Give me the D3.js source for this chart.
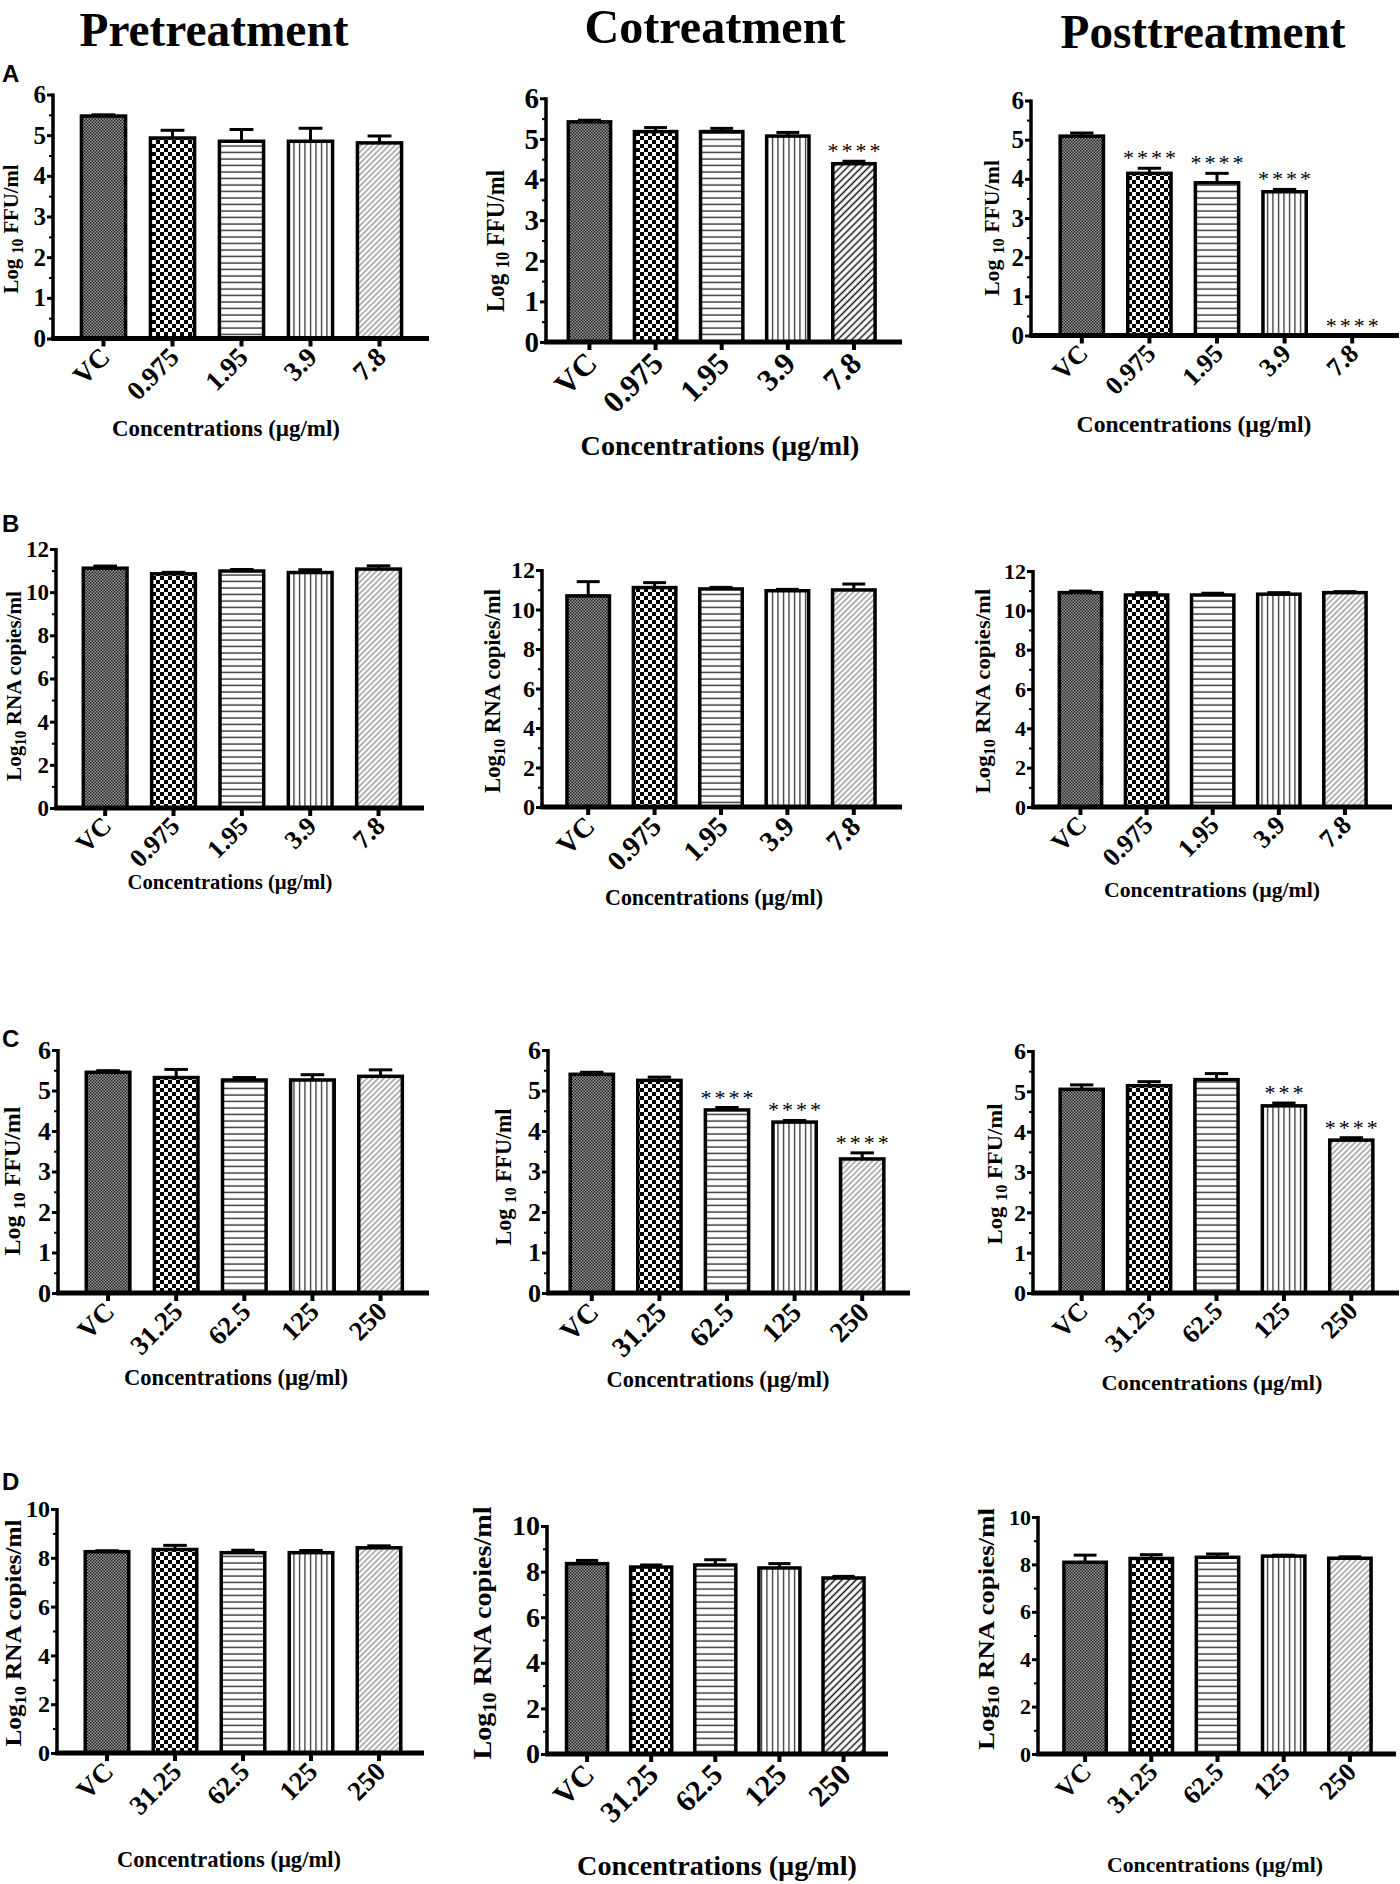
<!DOCTYPE html>
<html>
<head>
<meta charset="utf-8">
<script src="https://cdn.jsdelivr.net/npm/d3@7"></script>
<style>
  body { margin: 0; background: #fff; }
</style>
</head>
<body>
<script>
// categories
const concLow = ["VC", "0.975", "1.95", "3.9", "7.8"];
const concHigh = ["VC", "31.25", "62.5", "125", "250"];
const titles = ["Pretreatment", "Cotreatment", "Posttreatment"];
const rowLetters = ["A", "B", "C", "D"];

// means and SEM (upper error only)
const preA = [5.47, 4.93, 4.85, 4.85, 4.81];
const preAsem = [0.03, 0.19, 0.29, 0.32, 0.17];
const coA = [5.42, 5.18, 5.18, 5.07, 4.39];
const coAsem = [0.04, 0.10, 0.08, 0.09, 0.06];
const postA = [5.09, 4.14, 3.90, 3.67, 0];
const postAsem = [0.08, 0.13, 0.24, 0.06, 0];

const preB = [11.11, 10.85, 10.98, 10.91, 11.07];
const preBsem = [0.10, 0.07, 0.07, 0.13, 0.15];
const coB = [10.69, 11.11, 11.04, 10.95, 10.99];
const coBsem = [0.72, 0.25, 0.08, 0.07, 0.30];
const postB = [10.90, 10.78, 10.78, 10.82, 10.90];
const postBsem = [0.08, 0.12, 0.09, 0.08, 0.05];

const preC = [5.45, 5.32, 5.26, 5.26, 5.35];
const preCsem = [0.04, 0.20, 0.06, 0.13, 0.16];
const coC = [5.40, 5.25, 4.52, 4.22, 3.31];
const coCsem = [0.05, 0.08, 0.06, 0.04, 0.15];
const postC = [5.05, 5.14, 5.29, 4.64, 3.79];
const postCsem = [0.11, 0.10, 0.15, 0.07, 0.06];

const preD = [8.25, 8.34, 8.21, 8.21, 8.41];
const preDsem = [0.04, 0.17, 0.10, 0.09, 0.08];
const coD = [8.35, 8.20, 8.29, 8.16, 7.72];
const coDsem = [0.14, 0.09, 0.23, 0.19, 0.07];
const postD = [8.09, 8.25, 8.30, 8.35, 8.26];
const postDsem = [0.30, 0.16, 0.14, 0.04, 0.06];

// significance marks
const coAstars = ["", "", "", "", "****"];
const postAstars = ["", "****", "****", "****", "****"];
const coCstars = ["", "", "****", "****", "****"];
const postCstars = ["", "", "", "***", "****"];

const panels = [
  {cats: concLow, vals: preA, sem: preAsem, unit: "FFU"},
  {cats: concLow, vals: coA, sem: coAsem, stars: coAstars, unit: "FFU"},
  {cats: concLow, vals: postA, sem: postAsem, stars: postAstars, unit: "FFU"},
  {cats: concLow, vals: preB, sem: preBsem, unit: "RNA"},
  {cats: concLow, vals: coB, sem: coBsem, unit: "RNA"},
  {cats: concLow, vals: postB, sem: postBsem, unit: "RNA"},
  {cats: concHigh, vals: preC, sem: preCsem, unit: "FFU"},
  {cats: concHigh, vals: coC, sem: coCsem, stars: coCstars, unit: "FFU"},
  {cats: concHigh, vals: postC, sem: postCsem, stars: postCstars, unit: "FFU"},
  {cats: concHigh, vals: preD, sem: preDsem, unit: "RNA"},
  {cats: concHigh, vals: coD, sem: coDsem, unit: "RNA"},
  {cats: concHigh, vals: postD, sem: postDsem, unit: "RNA"}
];

// layout of each panel on the page
const frames = [
  {ax: 53, xEnd: 429, y0: 338.5, yTop: 94.5, band: [69, 414], ymax: 6, ystep: 1, tickFs: 25, catFs: 27, xlab: [226, 436, 228, 24], ylab: [11, 229, 129, 22]},
  {ax: 546, xEnd: 902, y0: 342, yTop: 98.3, band: [556.4, 887], ymax: 6, ystep: 1, tickFs: 29, catFs: 31, xlab: [720, 455, 279, 28], ylab: [495, 241, 142, 26], dark: true},
  {ax: 1031, xEnd: 1399, y0: 335.5, yTop: 100.5, band: [1048, 1386], ymax: 6, ystep: 1, tickFs: 25, catFs: 26, xlab: [1194, 432, 235, 24], ylab: [992, 228, 136, 22]},
  {ax: 56, xEnd: 424, y0: 808, yTop: 549, band: [71, 412.7], ymax: 12, ystep: 2, tickFs: 23, catFs: 26, xlab: [230, 889, 205, 22], ylab: [14, 686, 190, 22]},
  {ax: 542, xEnd: 902, y0: 807, yTop: 570, band: [555, 887], ymax: 12, ystep: 2, tickFs: 24, catFs: 28, xlab: [714, 905, 218, 23], ylab: [492, 691, 204, 23]},
  {ax: 1033, xEnd: 1392, y0: 807, yTop: 571, band: [1047.4, 1378], ymax: 12, ystep: 2, tickFs: 22, catFs: 26, xlab: [1212, 897, 216, 22], ylab: [983, 691, 205, 22]},
  {ax: 58, xEnd: 429, y0: 1293, yTop: 1050, band: [74, 414.6], ymax: 6, ystep: 1, tickFs: 26, catFs: 27, xlab: [236, 1385, 224, 24], ylab: [12, 1181, 149, 24]},
  {ax: 548, xEnd: 910, y0: 1293, yTop: 1050, band: [558, 896], ymax: 6, ystep: 1, tickFs: 26, catFs: 28, xlab: [718, 1387, 223, 23], ylab: [503, 1177, 137, 24]},
  {ax: 1033, xEnd: 1399, y0: 1293, yTop: 1051, band: [1048, 1385], ymax: 6, ystep: 1, tickFs: 24, catFs: 26, xlab: [1212, 1390, 221, 22], ylab: [995, 1174, 141, 22]},
  {ax: 57, xEnd: 424, y0: 1753, yTop: 1509, band: [73, 413], ymax: 10, ystep: 2, tickFs: 24, catFs: 27, xlab: [229, 1867, 224, 24], ylab: [13, 1633, 227, 24]},
  {ax: 547, xEnd: 888, y0: 1754, yTop: 1526, band: [555, 875.6], ymax: 10, ystep: 2, tickFs: 28, catFs: 30, xlab: [717, 1875, 280, 27], ylab: [482, 1633, 253, 26], dark: true},
  {ax: 1038, xEnd: 1396, y0: 1754, yTop: 1517, band: [1052, 1383], ymax: 10, ystep: 2, tickFs: 22, catFs: 26, xlab: [1215, 1872, 216, 22], ylab: [986, 1629, 242, 24]}
];
const titlePos = [[214, 46, 269], [715, 43, 261], [1203, 48, 285]];
const letterY = [82, 532, 1047, 1490];

const serif = "'Liberation Serif', 'Times New Roman', serif";

const svg = d3.select("body").append("svg")
    .attr("width", 1400)
    .attr("height", 1884)
    .attr("font-family", serif)
    .attr("font-weight", "bold");

svg.append("rect").attr("width", 1400).attr("height", 1884).attr("fill", "#fff");

// fill patterns, one per concentration
const defs = svg.append("defs");
function pattern(id, w, h, build, transform) {
  const p = defs.append("pattern")
      .attr("id", id)
      .attr("patternUnits", "userSpaceOnUse")
      .attr("width", w)
      .attr("height", h);
  if (transform) p.attr("patternTransform", transform);
  p.append("rect").attr("width", w).attr("height", h).attr("fill", "#fff");
  build(p);
}
pattern("p0", 3, 3, p => {
  p.append("rect").attr("width", 3).attr("height", 3).attr("fill", "#9a9a9a");
  p.append("rect").attr("width", 1.5).attr("height", 1.5).attr("fill", "#222");
  p.append("rect").attr("x", 1.5).attr("y", 1.5).attr("width", 1.5).attr("height", 1.5).attr("fill", "#222");
});
pattern("p1", 8, 8, p => {
  p.append("rect").attr("width", 4).attr("height", 4).attr("fill", "#000");
  p.append("rect").attr("x", 4).attr("y", 4).attr("width", 4).attr("height", 4).attr("fill", "#000");
});
pattern("p2", 10, 6.5, p => {
  p.append("line").attr("x1", 0).attr("x2", 10).attr("y1", 3).attr("y2", 3)
      .attr("stroke", "#222").attr("stroke-width", 1.3);
});
pattern("p3", 5.5, 10, p => {
  p.append("line").attr("x1", 2.5).attr("x2", 2.5).attr("y1", 0).attr("y2", 10)
      .attr("stroke", "#222").attr("stroke-width", 1.2);
});
pattern("p4", 4, 4, p => {
  p.append("line").attr("x1", 2).attr("x2", 2).attr("y1", 0).attr("y2", 4)
      .attr("stroke", "#666").attr("stroke-width", 1);
}, "rotate(45)");
pattern("p4d", 5, 5, p => {
  p.append("line").attr("x1", 2.5).attr("x2", 2.5).attr("y1", 0).attr("y2", 5)
      .attr("stroke", "#111").attr("stroke-width", 1.5);
}, "rotate(45)");

// text squeezed/stretched along its own direction to a target length
function fitText(t, x, y, rot, target, sy = 1) {
  const w = t.node().getComputedTextLength();
  const k = target / w;
  t.attr("text-anchor", "middle")
   .attr("transform", `translate(${x},${y}) rotate(${rot}) scale(${k},${sy})`);
  return t;
}

// column titles
titles.forEach((name, i) => {
  const [cx, by, w] = titlePos[i];
  const t = svg.append("text").attr("font-size", 44).text(name);
  fitText(t, cx, by, 0, w, 1.1);
});

// row letters
rowLetters.forEach((l, i) => {
  svg.append("text")
      .attr("x", 2)
      .attr("y", letterY[i])
      .attr("font-family", "'Liberation Sans', Arial, sans-serif")
      .attr("font-size", 24)
      .text(l);
});

panels.forEach((pd, idx) => {
  const f = frames[idx];
  const g = svg.append("g");

  const y = d3.scaleLinear().domain([0, f.ymax]).range([f.y0, f.yTop]);
  const x = d3.scaleBand().domain(pd.cats).range(f.band)
      .paddingInner(0.36).paddingOuter(0.18);
  const bw = x.bandwidth();
  const pats = ["p0", "p1", "p2", "p3", f.dark ? "p4d" : "p4"];

  const rows = pd.cats.map((c, i) => ({
    c, v: pd.vals[i], e: pd.sem[i], s: pd.stars ? pd.stars[i] : "", p: pats[i]
  }));

  // bars
  g.selectAll("rect.bar")
    .data(rows.filter(d => d.v > 0))
    .join("rect")
      .attr("class", "bar")
      .attr("x", d => x(d.c))
      .attr("y", d => y(d.v))
      .attr("width", bw)
      .attr("height", d => y(0) - y(d.v))
      .attr("fill", d => `url(#${d.p})`)
      .attr("stroke", "#000")
      .attr("stroke-width", 3.5);

  // error bars (upper only)
  const eb = g.selectAll("g.err")
    .data(rows.filter(d => d.e > 0))
    .join("g")
      .attr("class", "err")
      .attr("stroke", "#000")
      .attr("stroke-width", 3);
  eb.append("line")
      .attr("x1", d => x(d.c) + bw / 2)
      .attr("x2", d => x(d.c) + bw / 2)
      .attr("y1", d => y(d.v))
      .attr("y2", d => y(d.v + d.e));
  eb.append("line")
      .attr("x1", d => x(d.c) + bw / 2 - bw * 0.27)
      .attr("x2", d => x(d.c) + bw / 2 + bw * 0.27)
      .attr("y1", d => y(d.v + d.e))
      .attr("y2", d => y(d.v + d.e));

  // stars
  g.selectAll("text.star")
    .data(rows.filter(d => d.s))
    .join("text")
      .attr("class", "star")
      .attr("x", d => x(d.c) + bw / 2 + 1.5)
      .attr("y", d => y(d.v + d.e) - 3)
      .attr("text-anchor", "middle")
      .attr("font-weight", "normal")
      .attr("font-size", 22)
      .attr("letter-spacing", 3)
      .text(d => d.s);

  // y axis
  const yAxis = g.append("g")
      .attr("transform", `translate(${f.ax},0)`)
      .call(d3.axisLeft(y)
        .tickValues(d3.range(0, f.ymax + 1e-9, f.ystep))
        .tickFormat(d3.format("d"))
        .tickSize(6)
        .tickPadding(1));
  yAxis.select(".domain").remove();
  yAxis.selectAll(".tick line").attr("stroke-width", 3);
  yAxis.selectAll(".tick text")
      .attr("font-family", serif)
      .attr("font-weight", "bold")
      .attr("font-size", f.tickFs)
      .attr("fill", "#000");
  const minor = g.append("g")
      .attr("transform", `translate(${f.ax},0)`)
      .call(d3.axisLeft(y)
        .tickValues(d3.range(f.ystep / 2, f.ymax, f.ystep))
        .tickSize(4)
        .tickFormat(""));
  minor.select(".domain").remove();
  minor.selectAll(".tick line").attr("stroke-width", 2);
  g.append("line")
      .attr("x1", f.ax).attr("x2", f.ax)
      .attr("y1", y(0)).attr("y2", y(f.ymax) - 1)
      .attr("stroke", "#000")
      .attr("stroke-width", 3.5);

  // x axis
  const xAxis = g.append("g")
      .attr("transform", `translate(0,${f.y0})`)
      .call(d3.axisBottom(x).tickSize(8).tickSizeOuter(0));
  xAxis.select(".domain").remove();
  xAxis.selectAll(".tick line").attr("stroke-width", 4);
  xAxis.selectAll(".tick text")
      .attr("font-family", serif)
      .attr("font-weight", "bold")
      .attr("font-size", f.catFs)
      .attr("fill", "#000")
      .attr("text-anchor", "end")
      .attr("x", 0).attr("y", 0).attr("dy", 0)
      .attr("transform", `translate(${f.catFs * 0.3},${f.catFs * 0.75}) rotate(-45)`);
  g.append("line")
      .attr("x1", f.ax - 1.75).attr("x2", f.xEnd)
      .attr("y1", f.y0).attr("y2", f.y0)
      .attr("stroke", "#000")
      .attr("stroke-width", 5);

  // x label
  const [lx, ly, lw, lfs] = f.xlab;
  const xl = g.append("text").attr("font-size", lfs).text("Concentrations (\u00b5g/ml)");
  fitText(xl, lx, ly, 0, lw);

  // y label
  const [cx, cy, len, fs] = f.ylab;
  const yl = g.append("text").attr("font-size", fs);
  if (pd.unit === "FFU") {
    yl.append("tspan").text("Log ");
    yl.append("tspan").attr("font-size", fs * 0.72).attr("dy", fs * 0.22).text("10");
    yl.append("tspan").attr("dy", -fs * 0.22).text("\u00a0FFU/ml");
  } else {
    yl.append("tspan").text("Log");
    yl.append("tspan").attr("font-size", fs * 0.72).attr("dy", fs * 0.22).text("10");
    yl.append("tspan").attr("dy", -fs * 0.22).text("\u00a0RNA copies/ml");
  }
  fitText(yl, cx + fs * 0.33, cy, -90, len);
});
</script>
</body>
</html>
